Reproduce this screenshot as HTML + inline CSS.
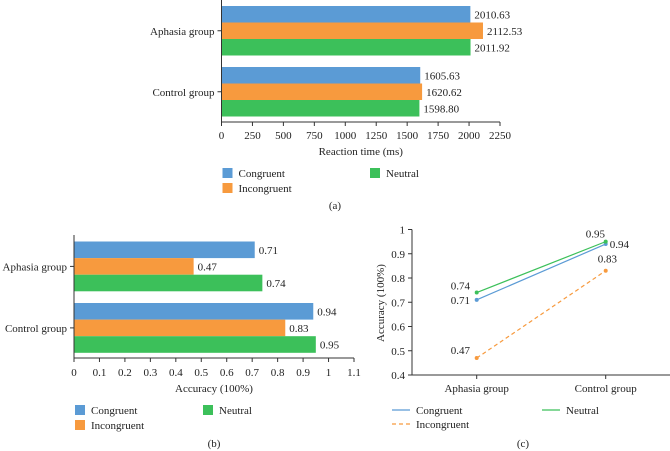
<!DOCTYPE html>
<html><head><meta charset="utf-8"><style>
html,body{margin:0;padding:0;background:#fff;}
svg{display:block;font-family:"Liberation Serif",serif;font-size:11px;fill:#222;}
</style></head><body>
<svg id="s" width="670" height="451" xmlns="http://www.w3.org/2000/svg"></svg>
<script>
const groups = ["Aphasia group","Control group"];
const seriesNames = ["Congruent","Incongruent","Neutral"];
const colors = ["#5b9bd5","#f79a3e","#3cc05a"];
const rtCongruent = [2010.63,1605.63];
const rtIncongruent = [2112.53,1620.62];
const rtNeutral = [2011.92,1598.80];
const rtTicks = [0,250,500,750,1000,1250,1500,1750,2000,2250];
const accCongruent = [0.71,0.94];
const accIncongruent = [0.47,0.83];
const accNeutral = [0.74,0.95];
const accTicks = [0,0.1,0.2,0.3,0.4,0.5,0.6,0.7,0.8,0.9,1,1.1];
const lineTicks = [0.4,0.5,0.6,0.7,0.8,0.9,1];

const svg = document.getElementById('s');
const NS = "http://www.w3.org/2000/svg";
function el(tag, attrs, parent, text){
  const e = document.createElementNS(NS, tag);
  for (const k in attrs) e.setAttribute(k, attrs[k]);
  if (text !== undefined) e.textContent = text;
  (parent||svg).appendChild(e);
  return e;
}
function fmt(v, d){ return v.toFixed(d); }

function barChart(name, x0, x1, vmax, yTop, yBot, groupTops, barH, series, ticks, tickDec, valDec, title, titleY, tickY, legY, legX2, capY, cap){
  const g = el('g', {}, svg);
  
  
  const sx = v => x0 + (v / vmax) * (x1 - x0);
  series.forEach((vals, si) => {
    vals.forEach((v, gi) => {
      const y = groupTops[gi] + si * barH;
      const r = el('rect', {x: x0, y: y, width: sx(v) - x0, height: barH, fill: colors[si]}, g);
      
      
      const t = el('text', {x: sx(v) + 4, y: y + barH/2 + 4}, g, fmt(v, valDec));
      
      
    });
  });
  el('line', {x1: x0, y1: yTop, x2: x0, y2: yBot, stroke: '#333', 'stroke-width': 1}, g);
  el('line', {x1: x0, y1: yBot, x2: x1, y2: yBot, stroke: '#333', 'stroke-width': 1}, g);
  groups.forEach((gn, gi) => {
    const cy = groupTops[gi] + barH * 1.5;
    el('line', {x1: x0 - 4, y1: cy, x2: x0, y2: cy, stroke: '#333'}, g);
    const t = el('text', {x: x0 - 7, y: cy + 4, 'text-anchor': 'end'}, g, gn);
    
    
  });
  ticks.forEach(tv => {
    const x = sx(tv);
    el('line', {x1: x, y1: yBot, x2: x, y2: yBot + 4, stroke: '#333'}, g);
    const t = el('text', {x: x, y: tickY, 'text-anchor': 'middle'}, g, tickDec === null ? String(tv) : String(+tv.toFixed(1)));
    
    
  });
  const tt = el('text', {x: (x0 + x1)/2, y: titleY, 'text-anchor': 'middle'}, g, title);
  
  
  const lx = [x0 + 1, x0 + 1, legX2];
  const ly = [legY, legY + 15, legY];
  seriesNames.forEach((sn, si) => {
    const sq = el('rect', {x: lx[si], y: ly[si] - 5, width: 10, height: 10, fill: colors[si]}, g);
    
    
    const t = el('text', {x: lx[si] + 16, y: ly[si] + 4}, g, sn);
    
    
  });
  const c = el('text', {x: capX(name), y: capY, 'text-anchor': 'middle'}, g, cap);
  
  
}
function capX(n){ return n === 'chart-a' ? 335 : 214; }

barChart('chart-a', 221.5, 500, 2250, 0, 122, [6, 67], 16.5,
  [rtCongruent, rtIncongruent, rtNeutral], rtTicks, null, 2,
  'Reaction time (ms)', 155, 139, 173, 370, 209, '(a)');
barChart('chart-b', 74, 354, 1.1, 235, 358, [241.5, 303], 16.6,
  [accCongruent, accIncongruent, accNeutral], accTicks, 1, 2,
  'Accuracy (100%)', 392, 376, 410, 203, 447, '(b)');

// Line chart (c)
(function(){
  const g = el('g', {}, svg);
  
  
  const x0 = 412, x1 = 670, yTop = 229.5, yBot = 375, vmin = 0.4, vmax = 1;
  const sy = v => yBot - (v - vmin) / (vmax - vmin) * (yBot - yTop);
  const cx = [476.7, 605.7];
  el('line', {x1: x0, y1: yTop, x2: x0, y2: yBot, stroke: '#333'}, g);
  el('line', {x1: x0, y1: yBot, x2: x1, y2: yBot, stroke: '#333'}, g);
  lineTicks.forEach(tv => {
    const y = sy(tv);
    el('line', {x1: x0 - 4, y1: y, x2: x0, y2: y, stroke: '#333'}, g);
    const t = el('text', {x: x0 - 7, y: y + 4, 'text-anchor': 'end'}, g, String(+tv.toFixed(1)));
    
    
  });
  groups.forEach((gn, gi) => {
    el('line', {x1: cx[gi], y1: yBot, x2: cx[gi], y2: yBot + 4, stroke: '#333'}, g);
    const t = el('text', {x: cx[gi], y: 392, 'text-anchor': 'middle'}, g, gn);
    
    
  });
  const yt = el('text', {x: 384, y: 303, 'text-anchor': 'middle', transform: 'rotate(-90 384 303)'}, g, 'Accuracy (100%)');
  
  
  const series = [accCongruent, accIncongruent, accNeutral];
  const dash = [null, '4,3', null];
  const labOff = [[-26, 4, 4, 4], [-26, -4, -8, -8], [-26, -3, -20, -4]];
  series.forEach((vals, si) => {
    const l = el('line', {x1: cx[0], y1: sy(vals[0]), x2: cx[1], y2: sy(vals[1]), stroke: colors[si], 'stroke-width': 1.2}, g);
    if (dash[si]) l.setAttribute('stroke-dasharray', dash[si]);
    
    
    vals.forEach((v, gi) => {
      const p = el('circle', {cx: cx[gi], cy: sy(v), r: 2, fill: colors[si]}, g);
      
      
      const o = labOff[si];
      const t = el('text', {x: cx[gi] + (gi === 0 ? o[0] : o[2]), y: sy(v) + (gi === 0 ? o[1] : o[3])}, g, v.toFixed(2));
      
      
    });
  });
  const lx = [392, 392, 542], ly = [410, 424, 410];
  seriesNames.forEach((sn, si) => {
    const l = el('line', {x1: lx[si], y1: ly[si], x2: lx[si] + 18, y2: ly[si], stroke: colors[si], 'stroke-width': 1.2}, g);
    if (dash[si]) l.setAttribute('stroke-dasharray', dash[si]);
    
    
    const t = el('text', {x: lx[si] + 24, y: ly[si] + 4}, g, sn);
    
    
  });
  const c = el('text', {x: 523, y: 447, 'text-anchor': 'middle'}, g, '(c)');
  
  
})();
</script>
</body></html>
